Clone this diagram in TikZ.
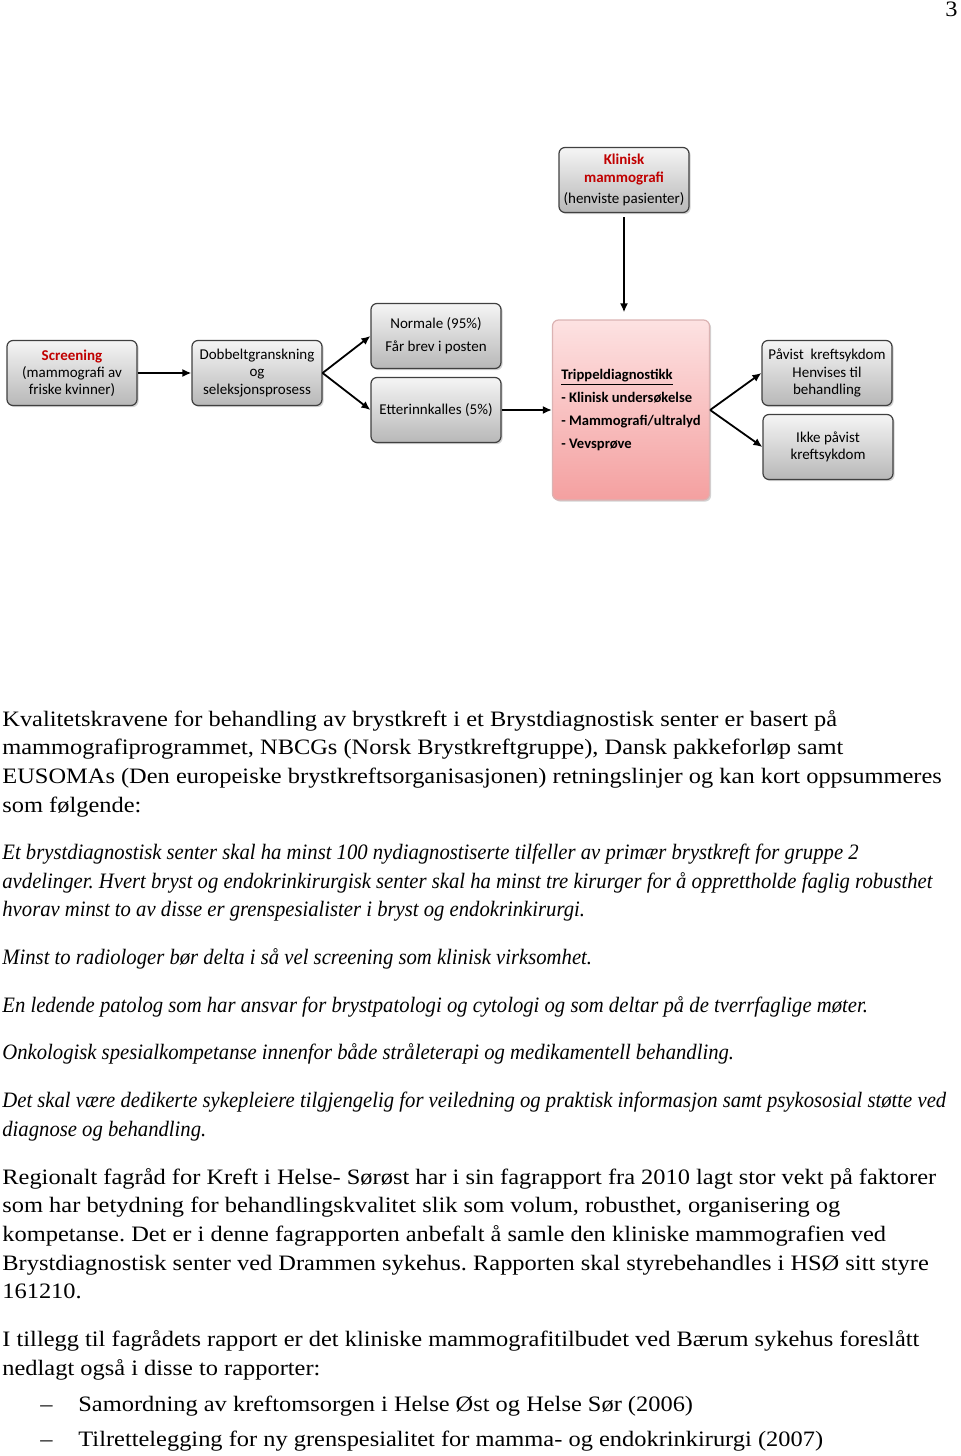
\documentclass[tikz,border=0pt]{standalone}
\usepackage{fontspec}
\setmainfont{Liberation Serif}[FakeStretch=1.11]
\newfontfamily\itfont{Liberation Serif}[FakeStretch=0.94]
\newfontfamily\boxfont{Carlito}
\usetikzlibrary{arrows.meta,shadows}
\frenchspacing

\definecolor{kredred}{RGB}{192,0,0}
\definecolor{pinktop}{RGB}{253,226,226}
\definecolor{pinkbot}{RGB}{244,160,160}

\tikzset{
  box/.style={draw=black!75, line width=0.6pt, rounded corners=3pt,
    minimum width=65pt, minimum height=32.5pt, inner sep=1pt,
    top color=black!4, bottom color=black!28,
    drop shadow={shadow xshift=0.8pt, shadow yshift=-0.8pt, opacity=0.35},
    align=center, font=\boxfont\fontsize{7.5}{8.6}\selectfont},
  tripbox/.style={box, draw=pinkbot!80!black!60, top color=pinktop, bottom color=pinkbot,
    minimum width=78.5pt, minimum height=90pt, align=left,
    font=\boxfont\bfseries\fontsize{7.3}{11.5}\selectfont},
  arr/.style={-{Latex[length=4.5pt,width=4pt]}, line width=0.9pt},
  txt/.style={anchor=base west, inner sep=0pt, font=\fontsize{11}{13}\selectfont},
  itx/.style={txt, font=\itfont\fontsize{11}{13}\selectfont\itshape},
}

\begin{document}
\begin{tikzpicture}[x=0.5pt,y=-0.5pt]
  \useasboundingbox (0,0) rectangle (960,1456);
  \node[anchor=base east, inner sep=0pt, font=\fontsize{11}{13}\selectfont] (pnum) at (958,17) {3};

  % flytskjema
  \node[box] (scr) at (72,373) {{\color{kredred}\bfseries Screening}\\(mammografi av\\friske kvinner)};
  \node[box] (dob) at (257,373) {Dobbeltgranskning\\og\\seleksjonsprosess};
  \node[box, font=\boxfont\fontsize{7.5}{11.5}\selectfont] (norm) at (436,336) {Normale (95\%)\\Får brev i posten};
  \node[box] (ett) at (436,410) {Etterinnkalles (5\%)};
  \node[box] (klin) at (624,180) {{\color{kredred}\bfseries Klinisk}\\{\color{kredred}\bfseries mammografi}\\[2pt](henviste pasienter)};
  \node[tripbox] (trip) at (631,410) {\underline{Trippeldiagnostikk}\\- Klinisk undersøkelse\\- Mammografi/ultralyd\\- Vevsprøve};
  \node[box] (pav) at (827,373) {Påvist\ \ kreftsykdom\\Henvises til\\behandling};
  \node[box] (ikke) at (828,447) {Ikke påvist\\kreftsykdom};

  \draw[arr] (scr) -- (dob);
  \draw[arr] (dob.east) -- (norm.west);
  \draw[arr] (dob.east) -- (ett.west);
  \draw[arr] (ett) -- (trip);
  \draw[arr, shorten >=3.5pt, shorten <=2pt] (klin.south) -- (klin.south |- trip.north);
  \draw[arr] (trip.east) -- (pav.west);
  \draw[arr] (trip.east) -- (ikke.west);

  % brodtekst
  \node[txt] (l1) at (2,726) {Kvalitetskravene for behandling av brystkreft i et Brystdiagnostisk senter er basert på};
  \node[txt] (l2) at (2,754) {mammografiprogrammet, NBCGs (Norsk Brystkreftgruppe), Dansk pakkeforløp samt};
  \node[txt] (l3) at (2,783) {EUSOMAs (Den europeiske brystkreftsorganisasjonen) retningslinjer og kan kort oppsummeres};
  \node[txt] (l4) at (2,812) {som følgende:};
  \node[itx] (i1) at (2,859) {Et brystdiagnostisk senter skal ha minst 100 nydiagnostiserte tilfeller av primær brystkreft for gruppe 2};
  \node[itx] (i2) at (2,888) {avdelinger. Hvert bryst og endokrinkirurgisk senter skal ha minst tre kirurger for å opprettholde faglig robusthet};
  \node[itx] (i3) at (2,916) {hvorav minst to av disse er grenspesialister i bryst og endokrinkirurgi.};
  \node[itx] (i4) at (2,964) {Minst to radiologer bør delta i så vel screening som klinisk virksomhet.};
  \node[itx] (i5) at (2,1012) {En ledende patolog som har ansvar for brystpatologi og cytologi og som deltar på de tverrfaglige møter.};
  \node[itx] (i6) at (2,1059) {Onkologisk spesialkompetanse innenfor både stråleterapi og medikamentell behandling.};
  \node[itx] (i7) at (2,1107) {Det skal være dedikerte sykepleiere tilgjengelig for veiledning og praktisk informasjon samt psykososial støtte ved};
  \node[itx] (i8) at (2,1136) {diagnose og behandling.};
  \node[txt] (r1) at (2,1184) {Regionalt fagråd for Kreft i Helse- Sørøst har i sin fagrapport fra 2010 lagt stor vekt på faktorer};
  \node[txt] (r2) at (2,1212) {som har betydning for behandlingskvalitet slik som volum, robusthet, organisering og};
  \node[txt] (r3) at (2,1241) {kompetanse. Det er i denne fagrapporten anbefalt å samle den kliniske mammografien ved};
  \node[txt] (r4) at (2,1270) {Brystdiagnostisk senter ved Drammen sykehus. Rapporten skal styrebehandles i HSØ sitt styre};
  \node[txt] (r5) at (2,1298) {161210.};
  \node[txt] (t1) at (2,1346) {I tillegg til fagrådets rapport er det kliniske mammografitilbudet ved Bærum sykehus foreslått};
  \node[txt] (t2) at (2,1375) {nedlagt også i disse to rapporter:};
  \node[txt] (d1) at (40,1411) {–};
  \node[txt] (b1) at (78,1411) {Samordning av kreftomsorgen i Helse Øst og Helse Sør (2006)};
  \node[txt] (d2) at (40,1446) {–};
  \node[txt] (b2) at (78,1446) {Tilrettelegging for ny grenspesialitet for mamma- og endokrinkirurgi (2007)};
\end{tikzpicture}
\end{document}
